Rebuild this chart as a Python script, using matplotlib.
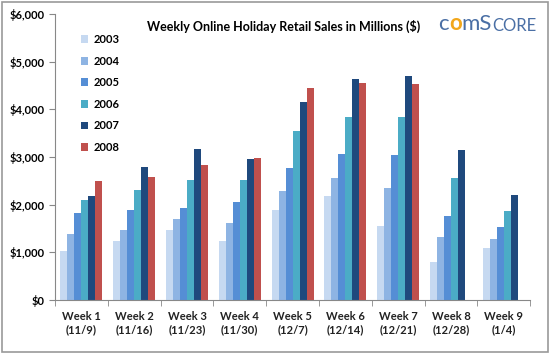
import numpy as np
import matplotlib.pyplot as plt
from matplotlib.ticker import FuncFormatter, FixedLocator

plt.rcParams['font.family'] = ['Lato', 'DejaVu Sans']

weeks = ["Week 1\n(11/9)", "Week 2\n(11/16)", "Week 3\n(11/23)", "Week 4\n(11/30)",
         "Week 5\n(12/7)", "Week 6\n(12/14)", "Week 7\n(12/21)", "Week 8\n(12/28)",
         "Week 9\n(1/4)"]
years = ["2003", "2004", "2005", "2006", "2007", "2008"]

sales_2003 = [1020, 1240, 1470, 1230, 1890, 2190, 1550, 790, 1100]
sales_2004 = [1380, 1470, 1700, 1610, 2290, 2570, 2360, 1330, 1280]
sales_2005 = [1820, 1890, 1940, 2050, 2780, 3070, 3050, 1770, 1540]
sales_2006 = [2090, 2300, 2510, 2510, 3550, 3850, 3850, 2570, 1870]
sales_2007 = [2180, 2800, 3170, 2970, 4150, 4630, 4700, 3150, 2200]
sales_2008 = [2500, 2590, 2840, 2990, 4440, 4550, 4530, np.nan, np.nan]

series = [sales_2003, sales_2004, sales_2005, sales_2006, sales_2007, sales_2008]
colors = ["#C6D9F1", "#8EB4E3", "#558ED5", "#4BACC6", "#1F497D", "#C0504D"]

fig = plt.figure(figsize=(5.5, 3.53), dpi=100)
ax = fig.add_axes([0.1, 0.15, 0.864, 0.81])

x = np.arange(len(weeks))
w = 0.133
for i, (vals, c, yr) in enumerate(zip(series, colors, years)):
    ax.bar(x + (i - 2.5) * w, vals, w, color=c, label=yr, linewidth=0)

ax.set_xlim(-0.5, len(weeks) - 0.5)
ax.set_ylim(0, 6000)
ax.set_yticks(range(0, 6001, 1000))
ax.yaxis.set_major_formatter(FuncFormatter(lambda v, p: "${:,.0f}".format(v)))
ax.set_xticks(x)
ax.set_xticklabels(weeks, fontsize=8, fontweight="bold", color="#222222")
ax.xaxis.set_minor_locator(FixedLocator(np.arange(-0.5, len(weeks), 1)))
ax.tick_params(axis="x", which="major", length=0, pad=8)
ax.tick_params(axis="x", which="minor", length=4, color="#888888")
ax.tick_params(axis="y", length=4, color="#888888", labelsize=8)
for t in ax.get_yticklabels():
    t.set_fontweight("bold")
for s in ["top", "right"]:
    ax.spines[s].set_visible(False)
for s in ["left", "bottom"]:
    ax.spines[s].set_color("#888888")

ax.legend(loc="upper left", bbox_to_anchor=(0.033, 0.965), frameon=False,
          handlelength=0.7, handleheight=0.7, labelspacing=0.95,
          handletextpad=0.5, prop={"weight": "bold", "size": 8})

fig.text(0.515, 0.925, "Weekly Online Holiday Retail Sales in Millions ($)",
         ha="center", va="center", fontsize=9, fontweight="bold")

# comScore logo, pieces chained one after another
logo_blue = "#4A6FA5"
c_txt = fig.text(0.797, 0.915, "c", color=logo_blue, fontsize=16, ha="left", va="baseline")
o_txt = ax.annotate("o", xy=(1, 0), xycoords=c_txt, color="#F2A71B", fontsize=16,
                    fontweight="bold", va="bottom", ha="left", annotation_clip=False)
ms_txt = ax.annotate("mS", xy=(1, 0), xycoords=o_txt, color=logo_blue, fontsize=16,
                     va="bottom", ha="left", annotation_clip=False)
ax.annotate("CORE", xy=(1, 0), xycoords=ms_txt, color=logo_blue, fontsize=12,
            va="bottom", ha="left", annotation_clip=False)

fig.patches.append(plt.Rectangle((0.003, 0.004), 0.994, 0.99, transform=fig.transFigure,
                                 fill=False, edgecolor="#999999", linewidth=1.2))

fig.savefig("out.png", dpi=100)
